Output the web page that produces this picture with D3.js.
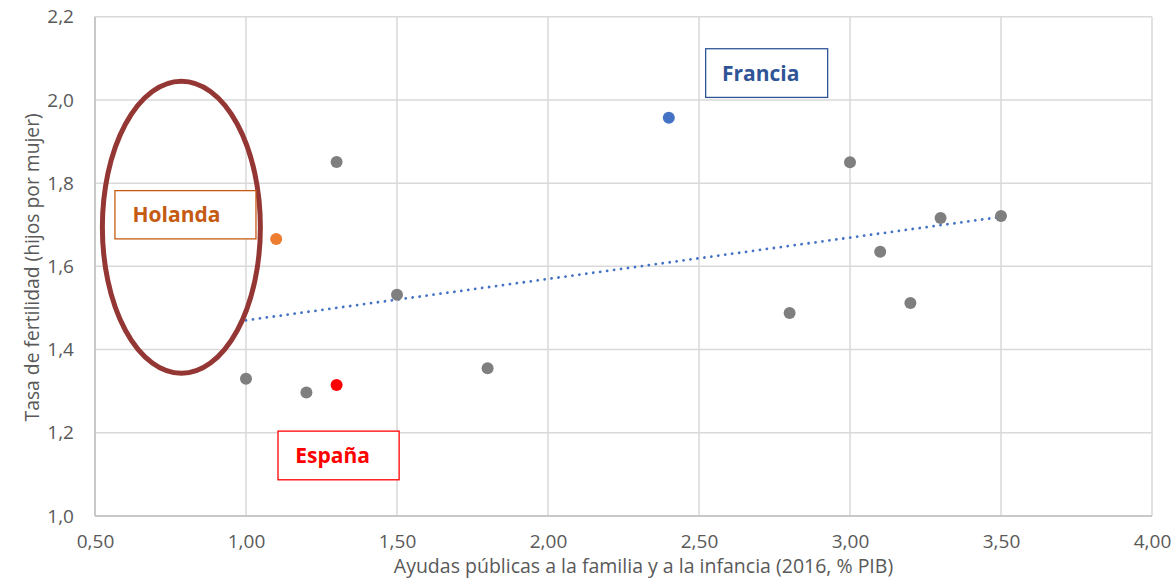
<!DOCTYPE html>
<html><head><meta charset="utf-8">
<script src="https://cdn.jsdelivr.net/npm/d3@7"></script>
<style>body{margin:0;background:#fff}svg{display:block}text{font-family:"Open Sans",sans-serif}</style>
</head><body><svg id="c" width="1174" height="579"></svg>
<script>
// Data
const countries = ["A","B","España","C","Holanda","D","E","Francia","F","G","H","I","J","K"];
const ayudas =    [1.00, 1.20, 1.30, 1.30, 1.10, 1.50, 1.80, 2.40, 2.80, 3.00, 3.10, 3.20, 3.30, 3.50];
const fertilidad =[1.330,1.297,1.315,1.851,1.666,1.532,1.355,1.957,1.488,1.850,1.635,1.512,1.716,1.721];
const xTicks = [0.5,1.0,1.5,2.0,2.5,3.0,3.5,4.0];
const yTicks = [1.0,1.2,1.4,1.6,1.8,2.0,2.2];
const highlight = {"España":"#FF0000","Holanda":"#ED7D31","Francia":"#4472C4"};

const svg = d3.select("#c");
const x = d3.scaleLinear().domain([0.5,4.0]).range([95,1152]);
const y = d3.scaleLinear().domain([1.0,2.2]).range([516,16.7]);
const fmt = (d,n)=>d.toFixed(n).replace(".",",");

// gridlines
svg.append("g").selectAll("line").data(xTicks).join("line")
  .attr("x1",d=>x(d)).attr("x2",d=>x(d)).attr("y1",y(2.2)).attr("y2",y(1.0))
  .attr("stroke","#D9D9D9").attr("stroke-width",1.5);
svg.append("g").selectAll("line").data(yTicks).join("line")
  .attr("y1",d=>y(d)).attr("y2",d=>y(d)).attr("x1",x(0.5)).attr("x2",x(4.0))
  .attr("stroke","#D9D9D9").attr("stroke-width",1.5);
// axis lines
svg.append("line").attr("x1",x(0.5)).attr("x2",x(0.5)).attr("y1",y(2.2)).attr("y2",y(1.0)).attr("stroke","#BFBFBF").attr("stroke-width",1.5);
svg.append("line").attr("x1",x(0.5)).attr("x2",x(4.0)).attr("y1",y(1.0)).attr("y2",y(1.0)).attr("stroke","#BFBFBF").attr("stroke-width",1.5);

// axes labels via d3 axes
const xa = svg.append("g").attr("transform",`translate(0,${y(1.0)})`)
  .call(d3.axisBottom(x).tickValues(xTicks).tickFormat(d=>fmt(d,2)).tickSize(0).tickPadding(19));
const ya = svg.append("g").attr("transform",`translate(${x(0.5)},0)`)
  .call(d3.axisLeft(y).tickValues(yTicks).tickFormat(d=>fmt(d,1)).tickSize(0).tickPadding(21));
[xa,ya].forEach(a=>{a.select(".domain").remove();a.selectAll("text").attr("fill","#595959").style("font-size","19px").style("font-family","'Open Sans',sans-serif");});

svg.append("text").attr("x",(x(0.5)+x(4.0))/2 + 20).attr("y",573).attr("text-anchor","middle")
  .attr("fill","#595959").style("font-size","19.5px").text("Ayudas públicas a la familia y a la infancia (2016, % PIB)");
svg.append("text").attr("transform",`translate(39,${(y(1)+y(2.2))/2+1}) rotate(-90)`).attr("text-anchor","middle")
  .attr("fill","#595959").style("font-size","19.3px").text("Tasa de fertilidad (hijos por mujer)");

// trendline (least squares from data)
const n = ayudas.length, mx = d3.mean(ayudas), my = d3.mean(fertilidad);
let sxy=0,sxx=0; for(let i=0;i<n;i++){sxy+=(ayudas[i]-mx)*(fertilidad[i]-my);sxx+=(ayudas[i]-mx)**2;}
const slope=sxy/sxx, icpt=my-slope*mx;
const x0=d3.min(ayudas), x1=d3.max(ayudas);
svg.append("line").attr("x1",x(x0)).attr("y1",y(icpt+slope*x0)).attr("x2",x(x1)).attr("y2",y(icpt+slope*x1))
  .attr("stroke","#4472C4").attr("stroke-width",2.8).attr("stroke-linecap","round").attr("stroke-dasharray","0.01 7");

// points
svg.append("g").selectAll("circle").data(d3.range(n)).join("circle")
  .attr("cx",i=>x(ayudas[i])).attr("cy",i=>y(fertilidad[i])).attr("r",6)
  .attr("fill",i=>highlight[countries[i]]||"#7F7F7F");

// ellipse
svg.append("ellipse").attr("cx",x(0.786)).attr("cy",y(1.694))
  .attr("rx",x(0.786+0.2616)-x(0.786)).attr("ry",y(1.694)-y(1.694+0.351))
  .attr("fill","none").attr("stroke","#943634").attr("stroke-width",5);

// annotation boxes
const boxes=[
  {t:"Holanda",c:"#C55A11",x0:0.566,x1:1.033,y0:1.782,y1:1.666,dx:-9},
  {t:"Francia",c:"#2F5597",x0:2.522,x1:2.926,y0:2.123,y1:2.006,dx:-6},
  {t:"España",c:"#FF0000",x0:1.106,x1:1.507,y0:1.204,y1:1.087,dx:-6}
];
boxes.forEach(b=>{
  svg.append("rect").attr("x",x(b.x0)).attr("y",y(b.y0)).attr("width",x(b.x1)-x(b.x0)).attr("height",y(b.y1)-y(b.y0))
    .attr("fill","#fff").attr("stroke",b.c).attr("stroke-width",1.3);
  svg.append("text").attr("x",(x(b.x0)+x(b.x1))/2+b.dx).attr("y",(y(b.y0)+y(b.y1))/2+7.5).attr("text-anchor","middle")
    .attr("fill",b.c).style("font-size","21px").style("font-weight","700").text(b.t);
});
</script></body></html>
